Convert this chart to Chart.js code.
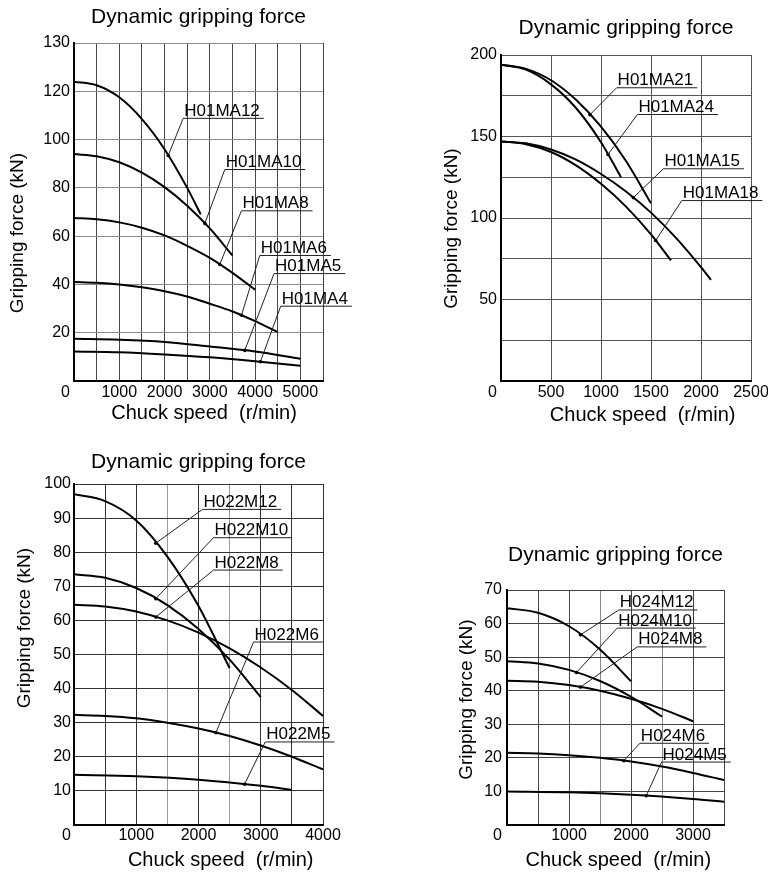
<!DOCTYPE html>
<html>
<head>
<meta charset="utf-8">
<script src="https://cdn.jsdelivr.net/npm/chart.js@4.4.0/dist/chart.umd.min.js"></script>
<style>
  html, body { margin:0; padding:0; background:#fff; overflow:hidden; width:768px; height:873px; position:relative; }
  canvas { position:absolute; }
</style>
</head>
<body>
<canvas id="c1" width="384" height="430" style="left:0;top:0;width:384px;height:430px"></canvas>
<canvas id="c2" width="400" height="430" style="left:384px;top:0;width:400px;height:430px"></canvas>
<canvas id="c3" width="384" height="437" style="left:0;top:436px;width:384px;height:437px"></canvas>
<canvas id="c4" width="400" height="353" style="left:384px;top:520px;width:400px;height:353px"></canvas>
<script>
// ---------- DATA ----------
// Panel 1: H01MA series  (x = chuck speed r/min, y = gripping force kN)
const H01MA12_x = [0, 500, 1000, 1500, 2000, 2500, 2800];
const H01MA12_y = [124, 122.5, 117.5, 108.5, 96, 80, 69];
const H01MA10_x = [0, 500, 1000, 1500, 2000, 2500, 3000, 3500];
const H01MA10_y = [94, 93.1, 90.6, 86.3, 80.3, 72.6, 63.2, 52];
const H01MA8_x  = [0, 500, 1000, 1500, 2000, 2500, 3000, 3500, 4000];
const H01MA8_y  = [67.5, 67, 65.7, 63.5, 60.3, 56, 51, 44.8, 37.8];
const H01MA6_x  = [0, 500, 1000, 1500, 2000, 2500, 3000, 3500, 4000, 4500];
const H01MA6_y  = [41, 40.7, 40, 38.8, 37.2, 35, 32, 28.8, 24.8, 20.3];
const H01MA5_x  = [0, 1000, 2000, 3000, 4000, 5000];
const H01MA5_y  = [17.5, 17.1, 16.2, 14.3, 12.2, 9.2];
const H01MA4_x  = [0, 1000, 2000, 3000, 4000, 5000];
const H01MA4_y  = [12.2, 11.9, 11, 9.8, 8.2, 6.3];
const p1XTickLabels = ['1000', '2000', '3000', '4000', '5000'];
const p1YTickValues = [20, 40, 60, 80, 100, 120, 140];
const p1YTickLabels = ['20', '40', '60', '80', '100', '120', '130'];

// Panel 2: H01MA large series
const H01MA21_x = [0, 250, 500, 750, 1000, 1250, 1500];
const H01MA21_y = [194, 191.5, 184.5, 172.5, 156, 135, 109];
const H01MA24_x = [0, 250, 500, 750, 1000, 1200];
const H01MA24_y = [194, 191, 182, 167.5, 146.5, 125];
const H01MA15_x = [0, 250, 500, 750, 1000, 1250, 1500, 1750, 2000, 2100];
const H01MA15_y = [147, 145.8, 142, 135.8, 127, 116.3, 103.3, 87.8, 69.8, 62];
const H01MA18_x = [0, 250, 500, 750, 1000, 1250, 1500, 1700];
const H01MA18_y = [147, 145.3, 140.5, 132.3, 121, 107, 90, 74];
const p2XTickLabels = ['500', '1000', '1500', '2000', '2500'];
const p2YTickValues = [50, 100, 150, 200];
const p2YTickLabels = ['50', '100', '150', '200'];

// Panel 3: H022M series
const H022M12_x = [0, 500, 1000, 1500, 2000, 2500];
const H022M12_y = [97, 95, 89.3, 78.7, 64.2, 46];
const H022M10_x = [0, 500, 1000, 1500, 2000, 2500, 3000];
const H022M10_y = [73.5, 72.5, 69.5, 64.5, 57.5, 48.5, 37.5];
const H022M8_x  = [0, 500, 1000, 1500, 2000, 2500, 3000, 3500, 4000];
const H022M8_y  = [64.6, 64.1, 62.6, 60, 56.4, 51.8, 46.2, 39.6, 32];
const H022M6_x  = [0, 500, 1000, 1500, 2000, 2500, 3000, 3500, 4000];
const H022M6_y  = [32.3, 32, 31.3, 30, 28.3, 26.1, 23.3, 20, 16.3];
const H022M5_x  = [0, 1000, 2000, 3000, 3500];
const H022M5_y  = [14.7, 14.3, 13.3, 11.5, 10.3];
const p3XTickLabels = ['1000', '2000', '3000', '4000'];
const p3YTickValues = [10, 20, 30, 40, 50, 60, 70, 80, 90, 100];
const p3YTickLabels = ['10', '20', '30', '40', '50', '60', '70', '80', '90', '100'];

// Panel 4: H024M series
const H024M12_x = [0, 500, 1000, 1500, 2000];
const H024M12_y = [64.6, 63.2, 59.2, 52.3, 42.8];
const H024M10_x = [0, 500, 1000, 1500, 2000, 2500];
const H024M10_y = [48.8, 48.1, 46.2, 42.9, 38.2, 32.3];
const H024M8_x  = [0, 500, 1000, 1500, 2000, 2500, 3000];
const H024M8_y  = [43, 42.7, 41.7, 40, 37.6, 34.6, 30.9];
const H024M6_x  = [0, 500, 1000, 1500, 2000, 2500, 3000, 3500];
const H024M6_y  = [21.5, 21.3, 20.8, 20, 18.9, 17.4, 15.5, 13.4];
const H024M5_x  = [0, 1000, 2000, 3000, 3500];
const H024M5_y  = [10, 9.75, 9, 7.75, 6.9];
const p4XTickLabels = ['1000', '2000', '3000'];
const p4YTickValues = [10, 20, 30, 40, 50, 60, 70];
const p4YTickLabels = ['10', '20', '30', '40', '50', '60', '70'];

const chartTitle = 'Dynamic gripping force';
const xTitle = 'Chuck speed  (r/min)';
const yTitle = 'Gripping force (kN)';
const cornerLabel = '0';

// Series-label callouts (label anchor and curve point given in data units)
const p1Callouts = [
  {text:'H01MA12', series:0, ux:2412, uy:109,  tx:2081},
  {text:'H01MA10', series:1, ux:3331, uy:87.8, tx:2890},
  {text:'H01MA8',  series:2, ux:3699, uy:70.7, tx:3220},
  {text:'H01MA6',  series:3, ux:4103, uy:52.2, tx:3699},
  {text:'H01MA5',  series:4, ux:4419, uy:44.7, tx:3772},
  {text:'H01MA4',  series:5, ux:4566, uy:31.2, tx:4118}
];
const p2Callouts = [
  {text:'H01MA21', series:0, ux:1156, uy:180.2, tx:889},
  {text:'H01MA24', series:1, ux:1364, uy:163.8, tx:1070},
  {text:'H01MA15', series:2, ux:1624, uy:130.5, tx:1323},
  {text:'H01MA18', series:3, ux:1808, uy:111,   tx:1547}
];
const p3Callouts = [
  {text:'H022M12', series:0, ux:2064, uy:92.7, tx:1314},
  {text:'H022M10', series:1, ux:2241, uy:84.4, tx:1314},
  {text:'H022M8',  series:2, ux:2241, uy:74.9, tx:1314},
  {text:'H022M6',  series:3, ux:2885, uy:53.8, tx:2279},
  {text:'H022M5',  series:4, ux:3072, uy:24.5, tx:2740}
];
const p4Callouts = [
  {text:'H024M12', series:0, ux:1804, uy:64.2, tx:1185},
  {text:'H024M10', series:1, ux:1777, uy:58.8, tx:1120},
  {text:'H024M8',  series:2, ux:2100, uy:53.2, tx:1185},
  {text:'H024M6',  series:3, ux:2143, uy:24.5, tx:1885},
  {text:'H024M5',  series:4, ux:2493, uy:18.9, tx:2245}
];

// ---------- RENDERING ----------
Chart.defaults.font.family = "'Liberation Sans', Arial, Helvetica, sans-serif";
Chart.defaults.color = '#000';

function toPoints(xs, ys) { return xs.map((x, i) => ({x: x, y: ys[i]})); }

function interpY(data, xv) {
  for (let i = 0; i < data.length - 1; i++) {
    const a = data[i], b = data[i + 1];
    if (xv >= a.x && xv <= b.x) return a.y + (b.y - a.y) * (xv - a.x) / (b.x - a.x);
  }
  return data[data.length - 1].y;
}

function calloutPlugin(callouts, yTickPad, xTickCenter) {
  return {
    id: 'callouts',
    afterDraw(chart) {
      const ctx = chart.ctx;
      const xs = chart.scales.x, ys = chart.scales.y;
      ctx.save();
      ctx.font = "17px 'Liberation Sans', Arial, sans-serif";
      callouts.forEach(c => {
        const data = chart.data.datasets[c.series].data;
        const px = xs.getPixelForValue(c.tx);
        const py = ys.getPixelForValue(interpY(data, c.tx));
        const ux = xs.getPixelForValue(c.ux);
        const uy = ys.getPixelForValue(c.uy);
        const w = ctx.measureText(c.text).width;
        ctx.strokeStyle = '#222';
        ctx.lineWidth = 1;
        ctx.beginPath();
        ctx.moveTo(ux, uy + 0.5);
        ctx.lineTo(ux + w + 5, uy + 0.5);
        ctx.stroke();
        ctx.beginPath();
        ctx.moveTo(ux, uy + 0.5);
        ctx.lineTo(px, py);
        ctx.stroke();
        ctx.fillStyle = '#000';
        ctx.beginPath();
        ctx.arc(px, py, 1.8, 0, Math.PI * 2);
        ctx.fill();
        ctx.textAlign = 'left';
        ctx.textBaseline = 'alphabetic';
        ctx.fillText(c.text, ux + 1, uy - 2);
      });
      // corner "0" label shared by both axes
      ctx.font = "16px 'Liberation Sans', Arial, sans-serif";
      ctx.textAlign = 'right';
      ctx.textBaseline = 'middle';
      ctx.fillText(cornerLabel, chart.chartArea.left - yTickPad, chart.chartArea.bottom + xTickCenter);
      ctx.restore();
    }
  };
}

function makePanel(id, cfg) {
  const datasets = cfg.series.map(s => ({
    label: s.name,
    data: toPoints(s.x, s.y),
    borderColor: '#000',
    borderWidth: 2,
    pointRadius: 0,
    fill: false,
    cubicInterpolationMode: 'monotone'
  }));
  return new Chart(document.getElementById(id), {
    type: 'line',
    data: { datasets: datasets },
    plugins: [calloutPlugin(cfg.callouts, cfg.yTickPad, cfg.xTickPad + 9.6)],
    options: {
      responsive: false,
      animation: false,
      devicePixelRatio: 1,
      layout: { padding: { left: 0, right: cfg.padRight, top: 0, bottom: 0 } },
      plugins: {
        legend: { display: false },
        tooltip: { enabled: false },
        title: {
          display: true, text: chartTitle, fullSize: false, color: '#000',
          font: { size: 21, weight: 'normal' },
          padding: { top: cfg.titleTop, bottom: cfg.titleBottom }
        }
      },
      scales: {
        x: {
          type: 'linear', min: 0, max: cfg.xMax,
          afterFit: s => { s.height = cfg.xAxisH; },
          ticks: {
            stepSize: 500, autoSkip: false, maxRotation: 0, minRotation: 0,
            padding: cfg.xTickPad, color: '#000', font: { size: 16 },
            callback: v => (cfg.xLabels.includes(String(v)) ? String(v) : '')
          },
          grid: { drawTicks: false, lineWidth: 1, color: cfg.xGridColor },
          border: { display: true, color: '#000', width: 2 },
          title: {
            display: true, text: cfg.xTitleText, color: '#000',
            font: { size: 20 }, padding: { top: 0, bottom: cfg.xTitlePad }
          }
        },
        y: {
          type: 'linear', min: 0, max: cfg.yMax,
          afterFit: s => { s.width = cfg.yAxisW; },
          ticks: {
            stepSize: cfg.yStep, autoSkip: false,
            padding: cfg.yTickPad, color: '#000', font: { size: 16 },
            callback: v => { const i = cfg.yVals.indexOf(v); return i >= 0 ? cfg.yLabels[i] : ''; }
          },
          grid: { drawTicks: false, lineWidth: 1, color: cfg.yGridColor },
          border: { display: true, color: '#000', width: 2 },
          title: {
            display: true, text: cfg.yTitleText, color: '#000',
            font: { size: 19 }, padding: { top: cfg.yTitlePad, bottom: 0 }
          }
        }
      }
    }
  });
}

const sp = n => ' '.repeat(n);

makePanel('c1', {
  series: [
    {name:'H01MA12', x:H01MA12_x, y:H01MA12_y},
    {name:'H01MA10', x:H01MA10_x, y:H01MA10_y},
    {name:'H01MA8',  x:H01MA8_x,  y:H01MA8_y},
    {name:'H01MA6',  x:H01MA6_x,  y:H01MA6_y},
    {name:'H01MA5',  x:H01MA5_x,  y:H01MA5_y},
    {name:'H01MA4',  x:H01MA4_x,  y:H01MA4_y}
  ],
  callouts: p1Callouts,
  xMax: 5500, yMax: 140, yStep: 20,
  xLabels: p1XTickLabels, yVals: p1YTickValues, yLabels: p1YTickLabels,
  padRight: 61, titleTop: 4.4, titleBottom: 13.4,
  xAxisH: 49, yAxisW: 74, xTickPad: 2.4, yTickPad: 4,
  xTitlePad: 5, yTitlePad: 6.6,
  xTitleText: sp(2) + xTitle, yTitleText: yTitle + sp(8),
  xGridColor: '#444', yGridColor: '#888'
});

makePanel('c2', {
  series: [
    {name:'H01MA21', x:H01MA21_x, y:H01MA21_y},
    {name:'H01MA24', x:H01MA24_x, y:H01MA24_y},
    {name:'H01MA15', x:H01MA15_x, y:H01MA15_y},
    {name:'H01MA18', x:H01MA18_x, y:H01MA18_y}
  ],
  callouts: p2Callouts,
  xMax: 2500, yMax: 200, yStep: 25,
  xLabels: p2XTickLabels, yVals: p2YTickValues, yLabels: p2YTickLabels,
  padRight: 33, titleTop: 15.4, titleBottom: 14.4,
  xAxisH: 49, yAxisW: 117, xTickPad: 2.4, yTickPad: 4,
  xTitlePad: 3, yTitlePad: 56.6,
  xTitleText: sp(6) + xTitle, yTitleText: yTitle + sp(4),
  xGridColor: '#555', yGridColor: '#555'
});

makePanel('c3', {
  series: [
    {name:'H022M12', x:H022M12_x, y:H022M12_y},
    {name:'H022M10', x:H022M10_x, y:H022M10_y},
    {name:'H022M8',  x:H022M8_x,  y:H022M8_y},
    {name:'H022M6',  x:H022M6_x,  y:H022M6_y},
    {name:'H022M5',  x:H022M5_x,  y:H022M5_y}
  ],
  callouts: p3Callouts,
  xMax: 4000, yMax: 100, yStep: 10,
  xLabels: p3XTickLabels, yVals: p3YTickValues, yLabels: p3YTickLabels,
  padRight: 61, titleTop: 13.4, titleBottom: 9.4,
  xAxisH: 48, yAxisW: 74, xTickPad: 0.6, yTickPad: 3,
  xTitlePad: 1, yTitlePad: 13.6,
  xTitleText: sp(8) + xTitle, yTitleText: sp(10) + yTitle,
  xGridColor: ctx => ((ctx.tick && (ctx.tick.value === 1500 || ctx.tick.value === 2500)) ? '#999' : '#333'),
  yGridColor: '#333'
});

makePanel('c4', {
  series: [
    {name:'H024M12', x:H024M12_x, y:H024M12_y},
    {name:'H024M10', x:H024M10_x, y:H024M10_y},
    {name:'H024M8',  x:H024M8_x,  y:H024M8_y},
    {name:'H024M6',  x:H024M6_x,  y:H024M6_y},
    {name:'H024M5',  x:H024M5_x,  y:H024M5_y}
  ],
  callouts: p4Callouts,
  xMax: 3500, yMax: 70, yStep: 10,
  xLabels: p4XTickLabels, yVals: p4YTickValues, yLabels: p4YTickLabels,
  padRight: 60, titleTop: 22.4, titleBottom: 22.4,
  xAxisH: 48, yAxisW: 123, xTickPad: 1.4, yTickPad: 5,
  xTitlePad: 1, yTitlePad: 71.6,
  xTitleText: sp(1) + xTitle, yTitleText: sp(3) + yTitle,
  xGridColor: ctx => ((ctx.tick && (ctx.tick.value === 1500 || ctx.tick.value === 2500)) ? '#888' : '#444'),
  yGridColor: '#444'
});
</script>
</body>
</html>
